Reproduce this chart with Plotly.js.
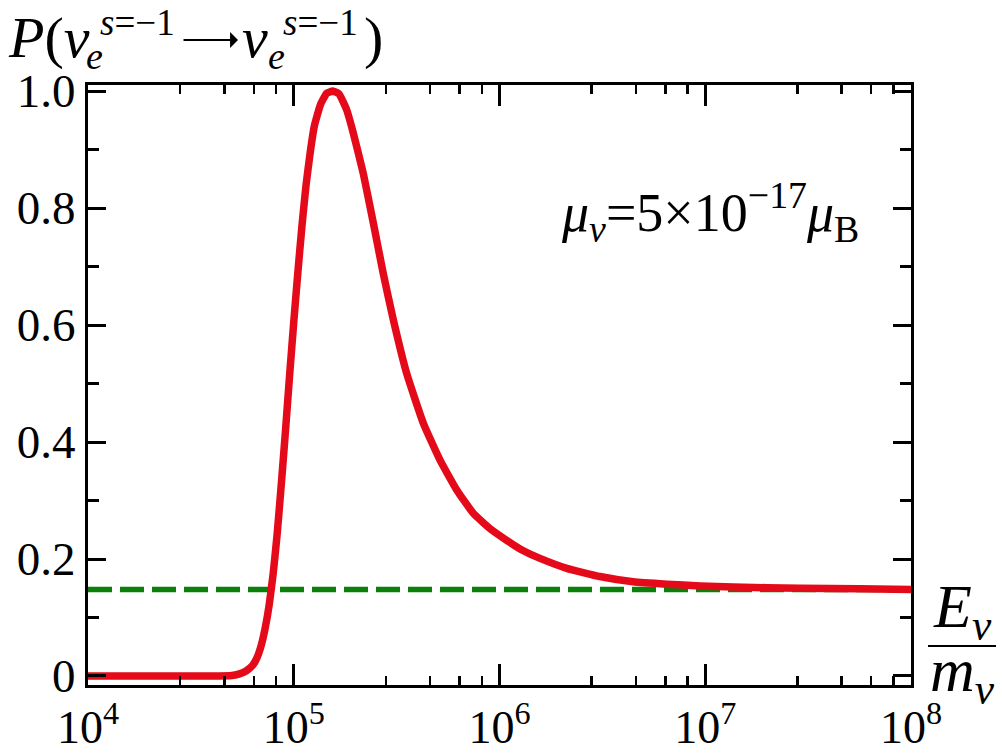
<!DOCTYPE html>
<html>
<head>
<meta charset="utf-8">
<script src="https://cdn.plot.ly/plotly-3.0.1.min.js"></script>
<style>html,body{margin:0;padding:0;background:#fff;}#plot{width:1002px;height:755px;}</style>
</head>
<body>
<div id="plot"></div>
<script>
// log10(E_nu / m_nu)
var logE = [4.0, 4.3, 4.6, 4.70, 4.74, 4.77, 4.80, 4.82, 4.84, 4.86, 4.88, 4.90, 4.92, 4.94, 4.96, 4.98, 5.00, 5.02, 5.04, 5.06, 5.08, 5.10, 5.13, 5.16, 5.19, 5.22, 5.257, 5.288, 5.338, 5.387, 5.435, 5.484, 5.549, 5.630, 5.711, 5.792, 5.873, 5.954, 6.035, 6.116, 6.197, 6.327, 6.488, 6.650, 6.813, 6.975, 7.136, 7.461, 7.75, 8.0];
// survival probability P
var prob = [0, 0, 0, 0.001, 0.004, 0.009, 0.018, 0.03, 0.05, 0.08, 0.12, 0.175, 0.245, 0.33, 0.42, 0.515, 0.605, 0.69, 0.77, 0.84, 0.895, 0.94, 0.977, 0.996, 1.0, 0.995, 0.968, 0.930, 0.859, 0.774, 0.688, 0.609, 0.517, 0.432, 0.369, 0.318, 0.278, 0.252, 0.232, 0.214, 0.201, 0.184, 0.170, 0.161, 0.157, 0.154, 0.152, 0.150, 0.149, 0.148];
var asymX = [1e4, 1e8];
var asymY = [0.148, 0.148];

var xTickVals = [1e4, 1e5, 1e6, 1e7, 1e8];
var xTickText = ['10<sup>4</sup>', '10<sup>5</sup>', '10<sup>6</sup>', '10<sup>7</sup>', '10<sup>8</sup>'];
var xMinorFactors = [2.8, 4.6, 6.4, 8.2];
var yTickVals = [0, 0.2, 0.4, 0.6, 0.8, 1.0];
var yTickText = ['0', '0.2', '0.4', '0.6', '0.8', '1.0'];
var yMinorVals = [0.1, 0.3, 0.5, 0.7, 0.9];

var E = logE.map(function (l) { return Math.pow(10, l); });
var xMinor = [];
for (var d = 4; d < 8; d++) {
  xMinorFactors.forEach(function (f) { xMinor.push(f * Math.pow(10, d)); });
}

var serif = 'Liberation Serif';

var traces = [
  {x: asymX, y: asymY, type: 'scatter', mode: 'lines',
   line: {color: 'rgb(10,128,10)', width: 5.5, dash: '24px,8px'}, hoverinfo: 'skip'},
  {x: E, y: prob, type: 'scatter', mode: 'lines',
   line: {color: 'rgb(228,10,25)', width: 7.5, shape: 'spline', smoothing: 0.4}, hoverinfo: 'skip'}
];

var L = 88, R = 911, T = 85, B = 685;
function px(x) { return (x - L) / (R - L); }
function py(y) { return (B - y) / (B - T); }

function ann(text, x, y, size, xa, ya) {
  return {text: text, xref: 'paper', yref: 'paper', x: px(x), y: py(y),
    xanchor: xa || 'left', yanchor: ya || 'middle', showarrow: false,
    font: {family: serif, size: size, color: '#000'}};
}

var annotations = [
  ann('<i>P</i>(<i>ν</i>', 6, 38, 58),
  ann('<i>e</i>', 84, 56, 38),
  ann('<i>s</i>=−1', 98, 0, 37, 'left', 'top'),
  ann('<i>ν</i>', 240, 38, 58),
  ann('<i>e</i>', 266, 56, 38),
  ann('<i>s</i>=−1', 281, 0, 37, 'left', 'top'),
  ann(')', 362, 38, 58),
  {text: '', xref: 'paper', yref: 'paper', x: px(238), y: py(40), ax: -56, ay: 0,
   showarrow: true, arrowhead: 1, arrowsize: 1.2, arrowwidth: 2.2, arrowcolor: '#000'},
  ann('<i>μ</i><sub><i>ν</i></sub>=5×10<sup>−17</sup><i>μ</i><sub>B</sub>', 710, 212, 54, 'center'),
  ann('<i>E</i><sub><i>ν</i></sub>', 962, 610, 62, 'center'),
  ann('<i>m</i><sub><i>ν</i></sub>', 962, 674, 62, 'center')
];

var layout = {
  width: 1002, height: 755,
  margin: {l: L, r: 1002 - R, t: T, b: 755 - B},
  paper_bgcolor: '#fff', plot_bgcolor: '#fff',
  font: {family: serif, color: '#000'},
  showlegend: false,
  xaxis: {
    type: 'log', range: [4, 8],
    tickmode: 'array', tickvals: xTickVals, ticktext: xTickText,
    ticks: 'inside', ticklen: 21, tickwidth: 3, tickcolor: '#000',
    showline: true, linewidth: 3, linecolor: '#000', mirror: 'allticks',
    showgrid: false, zeroline: false,
    tickfont: {family: serif, size: 46, color: '#000'},
    minor: {tickmode: 'array', tickvals: xMinor, ticks: 'inside', ticklen: 9, tickwidth: 2.5, tickcolor: '#000', showgrid: false}
  },
  yaxis: {
    range: [-0.0154, 1.0103],
    tickmode: 'array', tickvals: yTickVals, ticktext: yTickText,
    ticks: 'inside', ticklen: 18, tickwidth: 3, tickcolor: '#000',
    showline: true, linewidth: 3, linecolor: '#000', mirror: 'allticks',
    showgrid: false, zeroline: false,
    tickfont: {family: serif, size: 47, color: '#000'},
    minor: {tickmode: 'array', tickvals: yMinorVals, ticks: 'inside', ticklen: 11, tickwidth: 2.5, tickcolor: '#000', showgrid: false}
  },
  annotations: annotations,
  shapes: [
    {type: 'line', xref: 'paper', yref: 'paper', x0: px(928), x1: px(996), y0: py(646), y1: py(646),
     line: {color: '#000', width: 2}}
  ]
};

Plotly.newPlot('plot', traces, layout, {staticPlot: true, displayModeBar: false});
</script>
</body>
</html>
